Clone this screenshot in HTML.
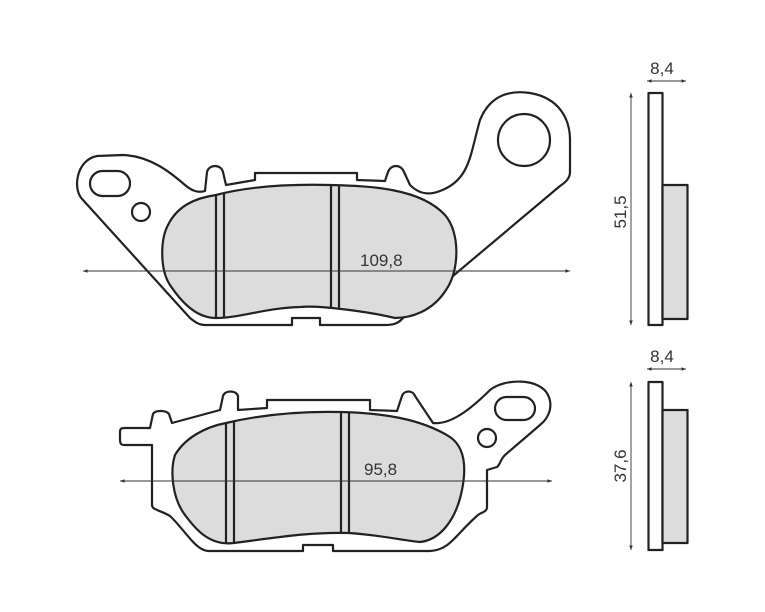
<!DOCTYPE html>
<html><head><meta charset="utf-8"><style>
html,body{margin:0;padding:0;background:#fff;}
svg{display:block;}
text{font-family:"Liberation Sans",sans-serif;font-size:17px;fill:#333;}
</style></head><body>
<svg width="765" height="612" viewBox="0 0 765 612" xmlns="http://www.w3.org/2000/svg">
<defs>
<marker id="a" viewBox="0 0 10 10" refX="10" refY="5" markerWidth="5" markerHeight="5" orient="auto-start-reverse"><path d="M0,1 L10,5 L0,9 z" fill="#333"/></marker>
</defs>
<g fill="none" stroke="#222" stroke-width="2.2" stroke-linejoin="round">
<path d="M83,200 C72,190 76,160 97,156 L123,155 C150,156 170,172 185,185 C192,191 198,193 205,191 L207,172 C209,164 221,164 223,172 L226,185 L255,180 L255,173 L357,173 L357,180 L385,181 L388,172 C391,164 401,164 404,172 L410,185 C420,195 430,195 440,191 C470,180 470,155 480,120 C490,95 510,90 530,93 C560,98 570,120 570,140 L570,172 C570,178 566,182 560,186 L403,318 C398,324 392,325 385,325 L320,325 L320,318 L292,318 L292,325 L205,325 C199,325 195,322 190,318 Z"/>
<rect x="90" y="171" width="40" height="25" rx="12.5"/>
<circle cx="141" cy="212" r="9"/>
<circle cx="524" cy="140" r="26"/>
<path d="M216,195 C250,186 290,184 330,185 C370,186 420,188 445,215 C460,232 460,270 446,290 C432,312 410,318 395,318 C370,312 320,305 300,307 C265,308 240,318 216,318 C195,318 180,300 170,285 C160,270 160,240 168,225 C178,205 196,198 216,195 Z" fill="#dcdcdc"/>
<path d="M216,196 V318 M224,194 V318 M331,185 V308 M339,186 V308"/>
<path d="M120,432 C120,428 122,428 126,428 L150,428 L153,414 C155,410 166,410 169,414 L172,423 L220,410 L223,396 C225,390 236,390 238,396 L238,410 L267,408 L267,400 L370,400 L370,410 L397,411 L402,396 C404,390 413,390 415,396 L433,423 C450,425 470,410 490,390 C505,378 540,378 548,395 C553,405 550,417 540,425 L505,455 C500,460 500,465 497,467 L487,470 L487,507 C487,512 482,512 478,515 C455,535 450,550 430,551 L333,551 L333,545 L303,545 L303,551 L208,551 C195,550 185,530 170,516 C160,510 152,510 152,505 L152,445 L124,445 C120,445 120,442 120,438 Z"/>
<rect x="495" y="397" width="40" height="23" rx="11.5"/>
<circle cx="487" cy="438" r="9"/>
<path d="M226,423 C260,415 300,411 341,412 C380,413 420,418 450,437 C466,448 466,470 462,490 C456,520 440,540 420,542 C400,540 380,535 349,533 C310,532 280,537 234,543 C210,546 196,530 185,515 C172,498 170,470 175,455 C185,438 205,427 226,423 Z" fill="#dcdcdc"/>
<path d="M226,423 V543 M234,422 V543 M341,412 V533 M349,412 V533"/>
<rect x="648.5" y="93" width="14" height="232" fill="#fff"/>
<rect x="662.5" y="185" width="25" height="134" fill="#dcdcdc"/>
<rect x="648.5" y="382" width="14" height="168" fill="#fff"/>
<rect x="662.5" y="410" width="25" height="133" fill="#dcdcdc"/>
</g>
<g stroke="#333" stroke-width="0.9" fill="none">
<line x1="83" y1="271" x2="570" y2="271" marker-start="url(#a)" marker-end="url(#a)"/>
<line x1="120" y1="481" x2="552" y2="481" marker-start="url(#a)" marker-end="url(#a)"/>
<line x1="631" y1="93" x2="631" y2="325" marker-start="url(#a)" marker-end="url(#a)"/>
<line x1="631" y1="382" x2="631" y2="550" marker-start="url(#a)" marker-end="url(#a)"/>
<line x1="647" y1="81" x2="686" y2="81" marker-start="url(#a)" marker-end="url(#a)"/>
<line x1="647" y1="369" x2="686" y2="369" marker-start="url(#a)" marker-end="url(#a)"/>
</g>
<text x="360" y="266">109,8</text>
<text x="364" y="475">95,8</text>
<text x="662" y="74" text-anchor="middle">8,4</text>
<text x="662" y="362" text-anchor="middle">8,4</text>
<text transform="translate(626,212) rotate(-90)" text-anchor="middle">51,5</text>
<text transform="translate(626,466) rotate(-90)" text-anchor="middle">37,6</text>
</svg>
</body></html>
